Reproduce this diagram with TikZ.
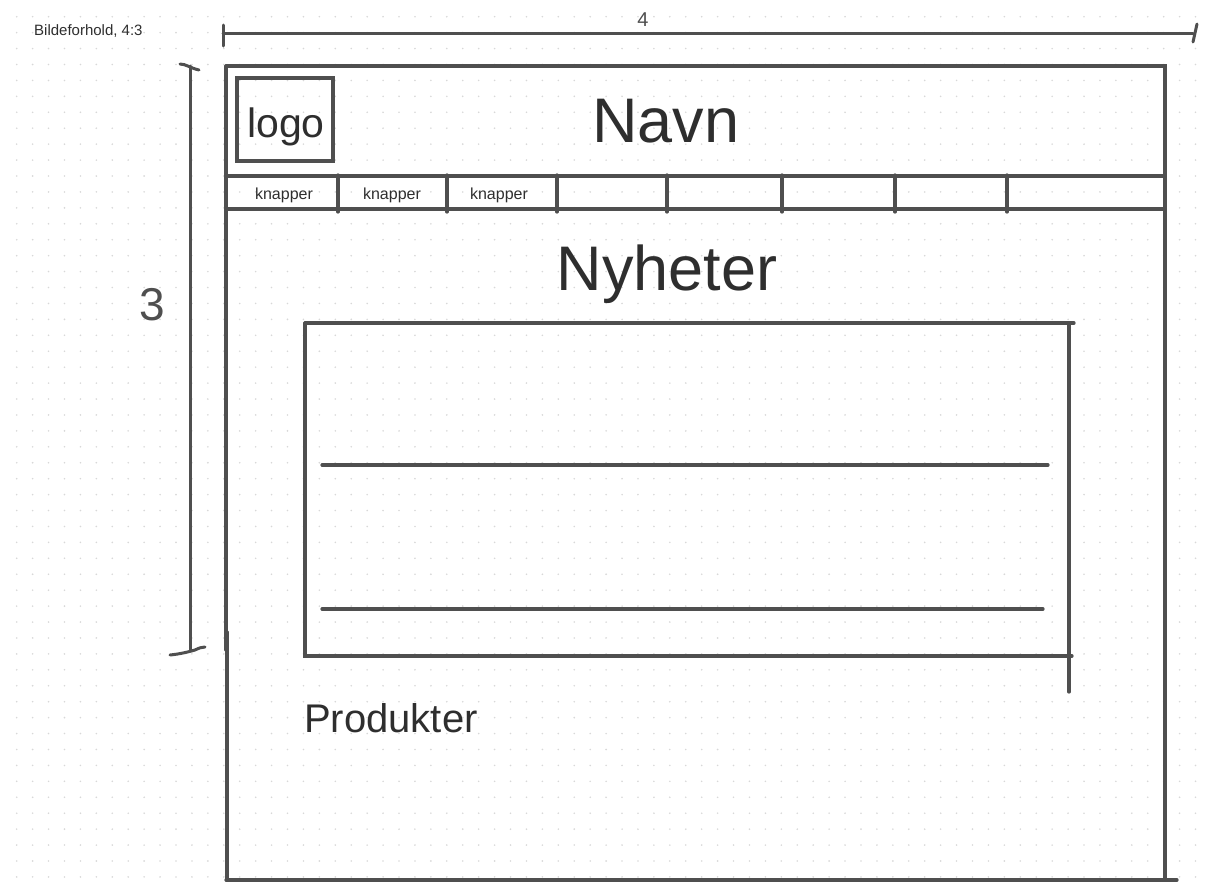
\documentclass[tikz,border=0pt]{standalone}
\usepackage{fontspec}
\setmainfont{Liberation Sans}
\usepackage{xcolor}
\usepackage{tikz}

\definecolor{ink}{HTML}{4F4F4F}
\definecolor{type}{HTML}{2E2E2E}
\definecolor{dotgrey}{HTML}{D8D8D8}

\begin{document}
\begin{tikzpicture}[
  x=1pt, y=-1pt,
  wire/.style={draw=ink, line width=3.2pt, line cap=round},
  pen/.style={draw=ink, line width=3pt, line cap=round},
  lbl/.style={text=type, inner sep=0pt},
  digit/.style={text=ink, inner sep=0pt}
]
\useasboundingbox (0,0) rectangle (1208,889);

% ── Dot grid ──
\foreach \i in {0,...,75}
  \foreach \j in {0,...,55}
    \fill[dotgrey] ({16.7+15.93*\i},{16.7+15.93*\j}) circle (0.9pt);

% ── Rulers ──
\node[lbl, anchor=base west, font=\fontsize{15}{18}\selectfont]
  (ratio) at (34,35) {Bildeforhold, 4:3};

\draw[pen] (223,33) -- (1193,33);
\draw[pen] (223,25) -- (223,46);
\draw[pen] (1197,24) -- (1193,42);
\node[digit, font=\fontsize{20}{22}\selectfont] (wd) at (643,20) {4};

\draw[pen] (190,66) -- (190,650);
\draw[pen] (180,64) .. controls (186,64) and (190,68) .. (199,70);
\draw[pen] (170,655) .. controls (180,654) and (188,652) .. (195,650)
  .. controls (199,648) and (202,647) .. (205,647);
\node[digit, font=\fontsize{46}{50}\selectfont] (ht) at (152,305) {3};

% ── Page frame ──
\draw[wire] (226,66) -- (1165,66) -- (1165,880);
\draw[wire] (226,66) -- (226,650);
\draw[wire] (227,632) -- (227,880);
\draw[wire] (226,880) -- (1177,880);

% ── Header ──
\draw[wire] (237,78) rectangle (333,161);
\node[lbl, anchor=base, font=\fontsize{41}{44}\selectfont]
  (logo) at (286,137) {logo};
\node[lbl, anchor=base, font=\fontsize{63}{66}\selectfont]
  (navn) at (666,142) {Navn};

% ── Menu bar ──
\draw[wire] (226,176) -- (1165,176);
\draw[wire] (226,209) -- (1165,209);
\foreach \x in {338,447,557,667,782,895,1007}
  \draw[wire] (\x,175) -- (\x,212);
\foreach \x/\n in {284/k1,392/k2,499/k3}
  \node[lbl, anchor=base, font=\fontsize{16}{18}\selectfont]
    (\n) at (\x,199) {knapper};

% ── News ──
\node[lbl, anchor=base, font=\fontsize{63}{66}\selectfont]
  (nyheter) at (667,290) {Nyheter};
\draw[wire] (305,323) -- (1074,323);
\draw[wire] (305,323) -- (305,656) -- (1072,656);
\draw[wire] (1069,323) -- (1069,692);
\draw[wire] (322,465) -- (1048,465);
\draw[wire] (322,609) -- (1043,609);

% ── Products ──
\node[lbl, anchor=base west, font=\fontsize{40}{44}\selectfont]
  (produkter) at (304,732) {Produkter};

\end{tikzpicture}
\end{document}
